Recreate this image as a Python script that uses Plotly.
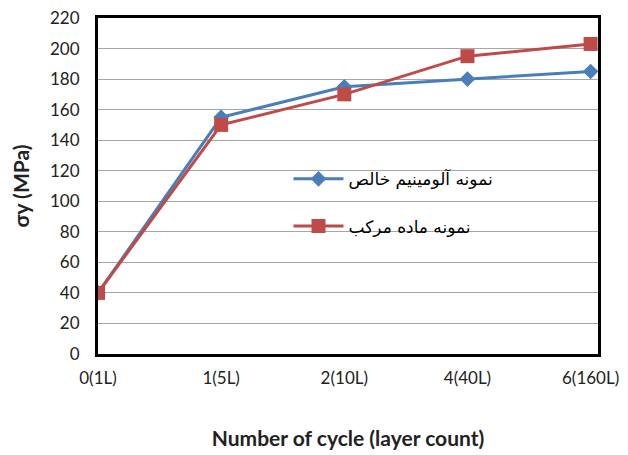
import plotly.graph_objects as go

categories = ["0(1L)", "1(5L)", "2(10L)", "4(40L)", "6(160L)"]
pure_al = [40, 155, 175, 180, 185]
composite = [40, 150, 170, 195, 203]
name_pure = "نمونه آلومینیم خالص"
name_comp = "نمونه ماده مرکب"
y_ticks = list(range(0, 221, 20))

fig = go.Figure()
fig.add_trace(go.Scatter(x=categories, y=pure_al, name=name_pure, mode="lines+markers",
                         line=dict(color="#4a7ebb", width=3),
                         marker=dict(symbol="diamond", size=12, color="#4a7ebb"),
                         legendgroup="a"))
fig.add_trace(go.Scatter(x=categories, y=composite, name=name_comp, mode="lines+markers",
                         line=dict(color="#be4b48", width=3),
                         marker=dict(symbol="square", size=14, color="#be4b48"),
                         legendgroup="b"))

fig.update_layout(
    width=620, height=447,
    margin=dict(l=90, r=30, t=10, b=101),
    paper_bgcolor="white", plot_bgcolor="white",
    font=dict(family="Lato, Open Sans, DejaVu Sans", size=17, color="#222"),
    legend=dict(x=0.381, y=0.45, xanchor="left", yanchor="middle",
                bgcolor="rgba(0,0,0,0)", tracegroupgap=22,
                font=dict(family="DejaVu Sans", size=17, color="black"),
                itemwidth=50),
    xaxis=dict(type="category", range=[0, 4.06], showgrid=False, automargin=False,
               showline=True, linecolor="black", linewidth=3, mirror=True,
               ticks="", ticklabelstandoff=7, ticklabeloverflow="allow",
               title=dict(text="<b>Number of cycle (layer count)</b>", standoff=44,
                          font=dict(size=21))),
    yaxis=dict(range=[0, 220], tickvals=y_ticks, showgrid=True, automargin=False,
               gridcolor="#a6a6a6", gridwidth=1,
               showline=True, linecolor="black", linewidth=3, mirror=True,
               ticks="", zeroline=False, ticklabelstandoff=12, ticklabeloverflow="allow",
               title=dict(text="<b>σy (MPa)</b>", standoff=20, font=dict(size=21))),
)

fig.write_html("out.html")
